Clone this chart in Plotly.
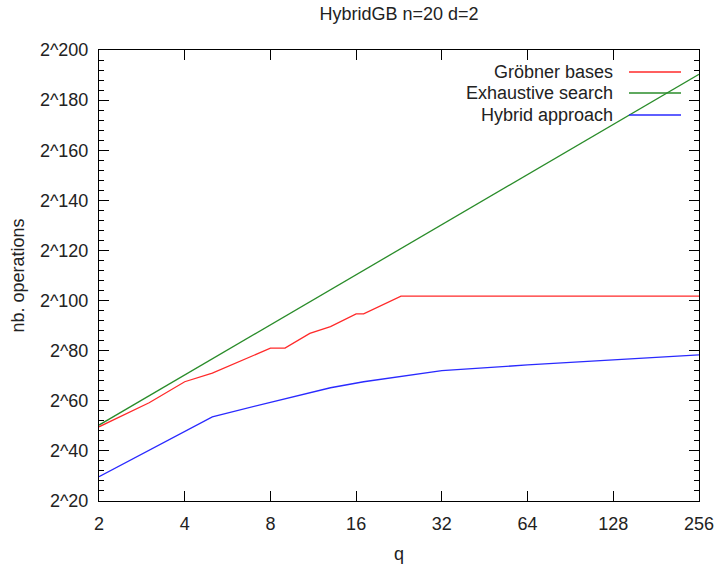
import plotly.graph_objects as go

title_text = "HybridGB n=20 d=2"
x_label = "q"
y_label = "nb. operations"

x_ticks = [2, 4, 8, 16, 32, 64, 128, 256]
x_ticklabels = ["2", "4", "8", "16", "32", "64", "128", "256"]
y_ticks = [20, 40, 60, 80, 100, 120, 140, 160, 180, 200]
y_ticklabels = ["2^" + str(v) for v in y_ticks]

# Gröbner bases (log2 of nb. operations)
gb_q = [2, 3, 4, 5, 8, 9, 11, 13, 16, 17, 23, 256]
gb_log2 = [49.6, 59.2, 67.6, 71.0, 81.0, 81.0, 86.9, 89.6, 94.7, 94.7, 101.8, 101.8]

# Exhaustive search
ex_q = [2, 4, 8, 16, 32, 64, 128, 256]
ex_log2 = [50.3, 70.3, 90.3, 110.3, 130.3, 150.3, 170.3, 190.3]

# Hybrid approach
hy_q = [2, 5, 8, 13, 17, 23, 32, 64, 128, 256]
hy_log2 = [29.7, 53.6, 59.4, 65.2, 67.6, 69.6, 72.0, 74.3, 76.3, 78.3]

series_names = ["Gröbner bases", "Exhaustive search", "Hybrid approach"]
series_colors = ["#ff2a2a", "#2a8c2a", "#2a2aff"]

FONT = "Liberation Sans, Arial, sans-serif"
FS = 18

fig = go.Figure()
for name, xs, ys, col in zip(series_names, [gb_q, ex_q, hy_q],
                             [gb_log2, ex_log2, hy_log2], series_colors):
    fig.add_trace(go.Scatter(x=xs, y=ys, mode="lines", name=name,
                             line=dict(color=col, width=1.3),
                             showlegend=False))

W, H = 719, 566
L, R, T, B = 99, 20, 50, 65
pw, ph = W - L - R, H - T - B
rows_y = [72, 93, 115]          # pixel rows of legend entries
for name, col, yy in zip(series_names, series_colors, rows_y):
    yp = 1 - (yy - T) / ph
    fig.add_annotation(x=(615 - L) / pw, y=yp, xref="paper", yref="paper",
                       text=name, showarrow=False, xanchor="right",
                       yanchor="middle",
                       font=dict(family=FONT, size=FS, color="#222222"))
    fig.add_shape(type="line", xref="paper", yref="paper",
                  x0=(629 - L) / pw, x1=(681 - L) / pw, y0=yp, y1=yp,
                  line=dict(color=col, width=1.3))

fig.update_layout(
    width=W, height=H,
    margin=dict(l=L, r=R, t=T, b=B, autoexpand=False),
    paper_bgcolor="white", plot_bgcolor="white",
    font=dict(family=FONT, size=FS, color="#222222"),
    title=dict(text=title_text, x=(L + pw / 2) / W, xref="container",
               xanchor="center", y=1 - 14 / H, yref="container",
               yanchor="middle", automargin=False,
               font=dict(family=FONT, size=FS, color="#222222")),
)
fig.update_xaxes(
    type="log", range=[0.30103, 2.40824],
    tickvals=x_ticks, ticktext=x_ticklabels,
    ticks="inside", ticklen=10, tickwidth=1, tickcolor="black",
    showline=True, linecolor="black", linewidth=1, mirror="ticks",
    showgrid=False, zeroline=False, ticklabelstandoff=6, automargin=False,
    title=dict(text=x_label, standoff=14, font=dict(size=FS)),
)
fig.update_yaxes(
    range=[20, 200],
    tickvals=y_ticks, ticktext=y_ticklabels,
    ticks="inside", ticklen=10, tickwidth=1, tickcolor="black",
    minor=dict(dtick=4, ticks="inside", ticklen=5, tickcolor="black",
               showgrid=False),
    showline=True, linecolor="black", linewidth=1, mirror="ticks",
    showgrid=False, zeroline=False, ticklabelstandoff=6, automargin=False,
    title=dict(text=y_label, standoff=10, font=dict(size=FS)),
)

fig.write_html(
    "out.html",
    config={"displayModeBar": False},
    post_script="document.body.style.margin='0';"
                "document.body.style.overflow='hidden';",
)
